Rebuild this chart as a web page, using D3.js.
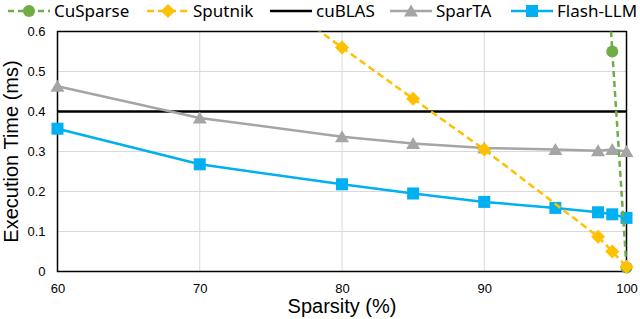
<!DOCTYPE html>
<html>
<head>
<meta charset="utf-8">
<script src="https://cdn.jsdelivr.net/npm/d3@7"></script>
<style>
  body { margin: 0; background: #fff; }
  svg text { font-family: "Liberation Sans", Arial, sans-serif; }
  .legend text { font-family: "Noto Sans", sans-serif; }
</style>
</head>
<body>
<div class="container"></div>
<script>
(function () {
  // sparsity (%) at each measured point
  const cuSparseX = [98, 99, 100]
  const cuSparseY = [1.15, 0.55, 0.01]
  const sputnikX = [70, 80, 85, 90, 98, 99, 100]
  const sputnikY = [0.82, 0.56, 0.432, 0.305, 0.087, 0.05, 0.012]
  const cuBlasX = [60, 100]
  const cuBlasY = [0.4, 0.4]
  const sparTAX = [60, 70, 80, 85, 90, 95, 98, 99, 100]
  const sparTAY = [0.463, 0.384, 0.337, 0.32, 0.309, 0.305, 0.302, 0.305, 0.3]
  const flashX = [60, 70, 80, 85, 90, 95, 98, 99, 100]
  const flashY = [0.357, 0.268, 0.218, 0.195, 0.174, 0.159, 0.148, 0.143, 0.134]

  const xTicks = [60, 70, 80, 90, 100]
  const yTicks = [0, 0.1, 0.2, 0.3, 0.4, 0.5, 0.6]

  const series = [
    { name: 'cuBLAS', xs: cuBlasX, ys: cuBlasY, color: '#000000', dash: null, marker: null, width: 2.5 },
    { name: 'SparTA', xs: sparTAX, ys: sparTAY, color: '#A5A5A5', dash: null, marker: 'triangle', width: 2.5 },
    { name: 'Flash-LLM', xs: flashX, ys: flashY, color: '#00B0F0', dash: null, marker: 'square', width: 2.5 },
    { name: 'CuSparse', xs: cuSparseX, ys: cuSparseY, color: '#70AD47', dash: '6,4', marker: 'circle', width: 2.5 },
    { name: 'Sputnik', xs: sputnikX, ys: sputnikY, color: '#FFC000', dash: '7,4', marker: 'diamond', width: 2.5 }
  ]
  const legendOrder = ['CuSparse', 'Sputnik', 'cuBLAS', 'SparTA', 'Flash-LLM']

  const W = 640
  const H = 319
  const margin = { top: 31.5, right: 13.5, bottom: 47.5, left: 57.5 }
  const width = W - margin.left - margin.right
  const height = H - margin.top - margin.bottom

  const svg = d3.select('.container').append('svg')
    .attr('width', W).attr('height', H)

  const g = svg.append('g')
    .attr('transform', 'translate(' + margin.left + ',' + margin.top + ')')

  const x = d3.scaleLinear().domain([60, 100]).range([0, width])
  const y = d3.scaleLinear().domain([0, 0.6]).range([height, 0])

  // grid
  g.append('g').selectAll('line').data(yTicks.slice(1, -1)).join('line')
    .attr('x1', 0).attr('x2', width)
    .attr('y1', d => y(d)).attr('y2', d => y(d))
    .attr('stroke', '#D9D9D9').attr('stroke-width', 1)
  g.append('g').selectAll('line').data(xTicks.slice(1, -1)).join('line')
    .attr('y1', 0).attr('y2', height)
    .attr('x1', d => x(d)).attr('x2', d => x(d))
    .attr('stroke', '#D9D9D9').attr('stroke-width', 1)

  // frame
  g.append('rect').attr('width', width).attr('height', height)
    .attr('fill', 'none').attr('stroke', '#000').attr('stroke-width', 1.5)

  // axes labels
  const xAxis = g.append('g').attr('transform', 'translate(0,' + height + ')')
    .call(d3.axisBottom(x).tickValues(xTicks).tickSize(0).tickPadding(12).tickFormat(d3.format('d')))
  xAxis.select('.domain').remove()
  xAxis.selectAll('text').attr('font-size', 13).attr('fill', '#000')
    .attr('font-family', '"Liberation Sans", Arial, sans-serif')

  const yAxis = g.append('g')
    .call(d3.axisLeft(y).tickValues(yTicks).tickSize(0).tickPadding(12).tickFormat(d => d === 0 ? '0' : d3.format('.1f')(d)))
  yAxis.select('.domain').remove()
  yAxis.selectAll('text').attr('font-size', 13).attr('fill', '#000')
    .attr('font-family', '"Liberation Sans", Arial, sans-serif')

  svg.append('text')
    .attr('transform', 'translate(18,' + (margin.top + height / 2) + ') rotate(-90)')
    .attr('text-anchor', 'middle').attr('font-size', 20)
    .text('Execution Time (ms)')
  svg.append('text')
    .attr('x', margin.left + width / 2).attr('y', 313)
    .attr('text-anchor', 'middle').attr('font-size', 20)
    .text('Sparsity (%)')

  // clip lines to plot area vertically
  svg.append('clipPath').attr('id', 'plotclip')
    .append('rect').attr('x', -10).attr('y', 0).attr('width', width + 20).attr('height', height + 10)

  function drawMarker (sel, type, color) {
    if (type === 'circle') {
      sel.append('circle').attr('r', 6).attr('fill', color)
    } else if (type === 'square') {
      sel.append('rect').attr('x', -6).attr('y', -6).attr('width', 12).attr('height', 12).attr('fill', color)
    } else if (type === 'triangle') {
      sel.append('path').attr('d', 'M0,-6.5L7,5.5L-7,5.5Z').attr('fill', color)
    } else if (type === 'diamond') {
      sel.append('path').attr('d', 'M0,-7L7,0L0,7L-7,0Z').attr('fill', color)
    }
  }

  const line = d3.line().x(d => x(d[0])).y(d => y(d[1]))

  series.forEach(function (s) {
    const pts = s.xs.map((v, i) => [v, s.ys[i]])
    g.append('path')
      .attr('clip-path', 'url(#plotclip)')
      .attr('d', line(pts))
      .attr('fill', 'none')
      .attr('stroke', s.color)
      .attr('stroke-width', s.width)
      .attr('stroke-dasharray', s.dash)
    if (s.marker) {
      pts.filter(p => p[1] <= 0.6).forEach(function (p) {
        const m = g.append('g').attr('transform', 'translate(' + x(p[0]) + ',' + y(p[1]) + ')')
        drawMarker(m, s.marker, s.color)
      })
    }
  })

  // legend
  const legendPos = { CuSparse: 8, Sputnik: 147, cuBLAS: 270, SparTA: 390, 'Flash-LLM': 511 }
  const legend = svg.append('g').attr('class', 'legend')
  legendOrder.forEach(function (name) {
    const s = series.find(d => d.name === name)
    const lx = legendPos[name]
    const item = legend.append('g').attr('transform', 'translate(' + lx + ',11)')
    item.append('line').attr('x1', 0).attr('x2', 42).attr('y1', 0).attr('y2', 0)
      .attr('stroke', s.color).attr('stroke-width', s.width)
      .attr('stroke-dasharray', s.dash)
    if (s.marker) {
      drawMarker(item.append('g').attr('transform', 'translate(21,0)'), s.marker, s.color)
    }
    item.append('text').attr('x', 46).attr('y', 6)
      .attr('font-size', 17).attr('fill', '#000')
      .text(name)
  })
}())
</script>
</body>
</html>
